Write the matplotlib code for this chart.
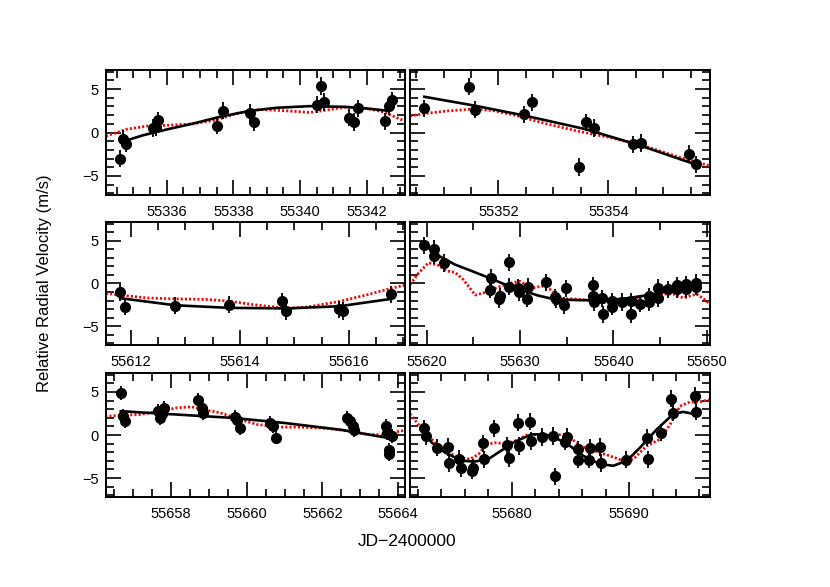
import matplotlib
matplotlib.use("Agg")
import matplotlib.pyplot as plt
from matplotlib.ticker import MultipleLocator

plt.rcParams['font.family'] = ['Liberation Sans', 'DejaVu Sans']

# ---- panel 1 (55334-55343) ----
t1 = [55334.60, 55334.68, 55334.77, 55335.60, 55335.67, 55335.75, 55337.52, 55337.70, 55338.50, 55338.62,
      55340.52, 55340.63, 55340.73, 55341.48, 55341.62, 55341.75, 55342.54, 55342.66, 55342.76]
v1 = [-3.0, -0.7, -1.27, 0.54, 0.65, 1.42, 0.8, 2.5, 2.3, 1.2, 3.2, 5.35, 3.5, 1.73, 1.23, 2.77, 1.3, 3.0, 3.7]
e1 = [1.0, 1.0, 1.0, 1.0, 1.0, 1.0, 1.0, 1.0, 1.0, 1.0, 1.0, 1.0, 1.0, 1.0, 1.0, 1.0, 1.0, 1.0, 1.0]
m1t = [55334.65, 55335.30, 55336.00, 55336.80, 55337.60, 55338.50, 55339.30, 55340.30, 55341.30, 55342.00, 55342.65]
m1v = [-1.08, -0.31, 0.35, 1.04, 1.81, 2.5, 2.85, 3.04, 2.96, 2.77, 2.5]
r1t = [55334.18, 55334.80, 55335.40, 55336.10, 55336.80, 55337.50, 55338.10, 55338.80, 55339.60, 55340.30,
       55340.80, 55341.40, 55342.00, 55342.50, 55342.80, 55343.15]
r1v = [-0.42, 0.38, 0.73, 0.85, 1.0, 1.45, 2.2, 2.65, 2.5, 2.31, 2.58, 2.96, 2.77, 2.38, 1.88, 1.31]

# ---- panel 2 (55350-55356) ----
t2 = [55350.65, 55351.47, 55351.58, 55352.47, 55352.61, 55353.46, 55353.59, 55353.73, 55354.45, 55354.59,
      55355.47, 55355.59]
v2 = [2.77, 5.27, 2.65, 2.08, 3.46, -3.96, 1.19, 0.5, -1.38, -1.19, -2.46, -3.65]
e2 = [1.0, 1.0, 1.0, 1.0, 1.0, 1.0, 1.0, 1.0, 1.0, 1.0, 1.0, 1.0]
m2t = [55350.65, 55351.58, 55352.47, 55353.59, 55354.58, 55355.63]
m2v = [4.12, 3.08, 1.96, 0.38, -1.5, -3.77]
r2t = [55350.39, 55350.65, 55351.09, 55351.52, 55351.88, 55352.30, 55352.85, 55353.45, 55354.06, 55354.67,
       55355.27, 55355.85]
r2v = [1.9, 2.19, 2.5, 2.69, 2.55, 2.0, 1.04, 0.15, -0.62, -1.58, -2.81, -3.85]

# ---- panel 3 (55611-55617) ----
t3 = [55611.80, 55611.88, 55612.81, 55613.79, 55614.78, 55614.84, 55615.81, 55615.90, 55616.78]
v3 = [-1.05, -2.73, -2.62, -2.47, -2.06, -3.22, -3.03, -3.22, -1.24]
e3 = [1.0, 1.0, 1.0, 1.0, 1.0, 1.0, 1.0, 1.0, 1.0]
m3t = [55611.80, 55612.81, 55613.79, 55614.86, 55615.83, 55616.78]
m3v = [-1.72, -2.55, -2.85, -2.92, -2.66, -1.8]
r3t = [55611.54, 55611.80, 55612.29, 55612.81, 55613.39, 55613.79, 55614.24, 55614.86, 55615.22, 55615.83,
       55616.32, 55616.78, 55617.03]
r3v = [-1.16, -1.35, -1.69, -1.80, -1.87, -2.06, -2.47, -2.92, -2.77, -2.1, -1.35, -0.56, -0.19]

# ---- panel 4 (55618-55650) ----
t4 = [55619.75, 55620.78, 55620.82, 55621.85, 55626.89, 55626.78, 55627.86, 55627.78, 55628.82, 55628.86,
      55629.82, 55629.89, 55630.82, 55630.78, 55632.82, 55633.82, 55633.75, 55634.89, 55634.75, 55637.86,
      55637.86, 55637.96, 55638.82, 55638.89, 55639.82, 55639.89, 55640.89, 55641.86, 55641.86, 55642.86,
      55643.86, 55643.86, 55644.82, 55644.82, 55645.82, 55646.79, 55646.79, 55647.78, 55647.78, 55648.82,
      55648.82]
v4 = [4.49, 4.08, 3.26, 2.40, 0.64, -0.75, -1.50, -1.87, 2.51, -0.37,
      -0.49, -1.05, -0.37, -1.80, 0.15, -1.87, -1.61, -0.56, -2.55, -0.22,
      -1.50, -2.17, -1.72, -3.60, -2.10, -2.73, -2.17, -2.10, -3.60, -2.36,
      -1.50, -2.17, -0.49, -1.72, -0.67, -0.22, -0.67, -0.11, -0.67, 0.07,
      -0.37]
e4 = [1.0] * 41
m4t = [55619.82, 55621.24, 55623.03, 55624.82, 55626.89, 55628.39, 55630.18, 55631.96, 55633.75, 55636.43,
       55638.5, 55641.0, 55643.5, 55646.0, 55648.9]
m4v = [4.46, 3.26, 2.21, 1.46, 0.56, -0.11, -0.79, -1.42, -1.87, -1.95, -1.95, -1.8, -1.4, -0.9, -0.4]
r4t = [55618.21, 55619.1, 55620.18, 55621.24, 55622.14, 55623.03, 55623.92, 55625.18, 55626.25, 55627.68,
       55629.1, 55630.0, 55631.25, 55632.32, 55633.2, 55634.29, 55635.71, 55637.14, 55638.21, 55639.64,
       55641.43, 55642.85, 55644.28, 55645.35, 55646.42, 55647.5, 55648.93, 55650.0, 55650.36]
r4v = [-0.11, 1.2, 2.43, 2.13, 1.46, 1.31, 0.45, -1.35, -1.05, -0.41,
       0.07, 0.26, -0.56, -0.30, -0.67, -1.8, -1.8, -1.95, -2.25, -2.2,
       -2.17, -1.61, -1.54, -1.24, -1.24, -1.69, -1.24, -2.06, -2.43]

# ---- panel 5 (55656-55664) ----
t5 = [55656.67, 55656.72, 55656.78, 55657.66, 55657.71, 55657.75, 55657.80, 55658.70, 55658.81, 55658.84,
      55659.69, 55659.73, 55659.82, 55660.62, 55660.69, 55660.78, 55662.66, 55662.73, 55662.80, 55662.84,
      55663.68, 55663.71, 55663.83, 55663.77, 55663.77]
v5 = [4.89, 2.19, 1.62, 2.77, 2.0, 2.5, 3.16, 4.12, 3.16, 2.58,
      2.08, 1.73, 0.85, 1.43, 1.04, -0.3, 2.0, 1.62, 1.04, 0.54,
      1.04, 0.27, -0.11, -1.77, -2.23]
e5 = [0.8] * 25
m5t = [55656.67, 55658.0, 55659.65, 55661.0, 55662.5, 55663.88]
m5v = [2.77, 2.42, 1.98, 1.4, 0.6, -0.45]
r5t = [55656.26, 55656.65, 55657.18, 55657.71, 55658.15, 55658.55, 55658.85, 55659.30, 55659.82, 55660.27,
       55660.88, 55661.41, 55662.12, 55662.73, 55663.17, 55663.61, 55664.05, 55664.19]
r5v = [2.19, 2.27, 2.39, 2.77, 3.16, 3.27, 2.96, 2.58, 1.81, 1.23, 0.92, 0.92, 0.77, 0.46, 0.08, 0.0, 0.46, 0.54]

# ---- panel 6 (55671-55697) ----
t6 = [55672.55, 55672.67, 55673.66, 55674.55, 55674.66, 55675.51, 55675.68, 55676.59, 55676.73, 55677.53,
      55677.66, 55678.52, 55679.63, 55679.80, 55680.57, 55680.65, 55681.56, 55681.65, 55682.56, 55683.55,
      55683.69, 55684.54, 55684.69, 55685.63, 55685.68, 55686.67, 55686.62, 55687.53, 55687.61, 55689.74,
      55691.56, 55691.65, 55692.70, 55693.58, 55693.72, 55695.63, 55695.71]
v6 = [0.77, -0.11, -1.46, -1.38, -3.30, -2.73, -3.88, -4.15, -3.84, -0.96,
      -2.80, 0.77, -1.19, -2.69, 1.43, -1.27, 1.55, -0.69, -0.23, -0.11,
      -4.80, -0.77, -0.23, -1.65, -2.88, -1.46, -2.88, -1.38, -3.26, -2.88,
      -0.31, -2.80, 0.27, 4.20, 2.58, 4.58, 2.69]
e6 = [1.0] * 37
m6t = [55672.4, 55673.18, 55674.31, 55675.74, 55676.87, 55678.0, 55679.15, 55680.28, 55681.7, 55682.84,
       55683.97, 55684.97, 55686.1, 55687.53, 55688.66, 55689.8, 55690.94, 55692.36, 55693.78, 55694.63,
       55695.77]
m6v = [0.6, -0.88, -2.03, -3.0, -3.07, -2.8, -1.77, -0.77, 0.08, 0.08,
       -0.5, -1.27, -2.42, -3.38, -3.57, -3.0, -1.46, 0.65, 2.46, 2.69, 2.38]
r6t = [55671.33, 55672.04, 55672.89, 55673.74, 55674.6, 55675.45, 55676.45, 55677.16, 55677.87, 55678.72,
       55679.43, 55680.28, 55681.42, 55682.27, 55683.41, 55684.26, 55684.69, 55685.82, 55686.96, 55688.2,
       55689.52, 55690.37, 55691.5, 55692.64, 55693.5, 55694.35, 55695.2, 55696.05, 55696.9]
r6v = [2.46, 1.23, -0.11, -1.27, -2.03, -2.61, -2.80, -2.23, -1.07, -0.88,
       -1.07, -0.69, 0.08, 0.0, -0.11, 0.08, 0.08, -1.27, -1.8, -2.35,
       -3.0, -2.80, -1.27, -0.50, 1.23, 3.35, 3.85, 3.85, 4.12]

# layout: [left, bottom, width, height], xlim, major, minor
panels = [
    (t1, v1, e1, m1t, m1v, r1t, r1v, [0.1277, 0.6678, 0.3602, 0.2129], (55334.18, 55343.15), 2, 0.5),
    (t2, v2, e2, m2t, m2v, r2t, r2v, [0.4940, 0.6678, 0.3614, 0.2129], (55350.39, 55355.85), 2, 0.5),
    (t3, v3, e3, m3t, m3v, r3t, r3v, [0.1277, 0.4123, 0.3602, 0.2095], (55611.54, 55617.03), 2, 0.5),
    (t4, v4, e4, m4t, m4v, r4t, r4v, [0.4940, 0.4123, 0.3614, 0.2095], (55618.2, 55650.36), 10, 5),
    (t5, v5, e5, m5t, m5v, r5t, r5v, [0.1277, 0.1533, 0.3602, 0.2112], (55656.28, 55664.18), 2, 0.5),
    (t6, v6, e6, m6t, m6v, r6t, r6v, [0.4940, 0.1533, 0.3614, 0.2112], (55671.33, 55696.9), 10, 2),
]

fig = plt.figure(figsize=(8.3, 5.87), dpi=100)

for i, (t, v, e, mt, mv, rt, rv, pos, xlim, major, minor) in enumerate(panels):
    ax = fig.add_axes(pos)
    ax.plot(rt, rv, color="red", linestyle=(0, (0.75, 0.75)), linewidth=2.0, zorder=2)
    ax.plot(mt, mv, color="black", linewidth=1.9, zorder=3)
    ax.errorbar(t, v, yerr=e, fmt="o", color="black", markersize=7, elinewidth=1.3, capsize=0, zorder=4)
    ax.set_xlim(*xlim)
    ax.set_ylim(-7.2, 7.2)
    ax.xaxis.set_major_locator(MultipleLocator(major))
    ax.xaxis.set_minor_locator(MultipleLocator(minor))
    ax.yaxis.set_major_locator(MultipleLocator(5))
    ax.yaxis.set_minor_locator(MultipleLocator(1))
    ax.xaxis.get_major_formatter().set_useOffset(False)
    ax.tick_params(which="both", direction="in", top=True, right=True, width=1.2, labelsize=10.5)
    ax.tick_params(which="major", length=11)
    ax.tick_params(which="minor", length=5.5)
    ax.tick_params(axis="x", pad=7)
    ax.tick_params(axis="y", pad=5)
    if i % 2 == 1:
        ax.tick_params(labelleft=False)
    for s in ax.spines.values():
        s.set_linewidth(1.4)

fig.text(0.054, 0.518, "Relative Radial Velocity (m/s)", rotation=90, ha="center", va="center", fontsize=12)
fig.text(0.49, 0.078, "JD\u22122400000", ha="center", va="center", fontsize=12.5)

fig.savefig("out.png", dpi=100)
